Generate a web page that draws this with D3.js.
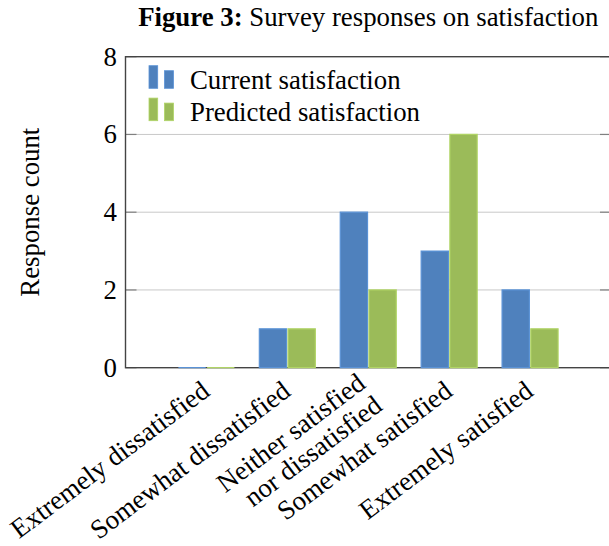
<!DOCTYPE html>
<html>
<head>
<meta charset="utf-8">
<script src="https://cdn.jsdelivr.net/npm/d3@7"></script>
<style>
  html, body { margin: 0; padding: 0; background: #fff; }
  svg { display: block; }
</style>
</head>
<body>
<svg id="chart" width="609" height="546"></svg>
<script>
// Survey response counts per satisfaction level
const categories = [
  ["Extremely dissatisfied"],
  ["Somewhat dissatisfied"],
  ["Neither satisfied", "nor dissatisfied"],
  ["Somewhat satisfied"],
  ["Extremely satisfied"]
];
const seriesNames = ["Current satisfaction", "Predicted satisfaction"];
const currentValues = [0, 1, 4, 3, 2];
const predictedValues = [0, 1, 2, 6, 1];
const yTicks = [0, 2, 4, 6, 8];
const titleBold = "Figure 3:";
const titleRest = " Survey responses on satisfaction";
const yLabel = "Response count";

const colors = ["#4f81bd", "#9bbb59"];
const FONT = "'Liberation Serif', 'Times New Roman', Times, serif";

const svg = d3.select("#chart")
  .attr("font-family", FONT);
const plot = { left: 125.5, right: 611, top: 56.7, bottom: 367.7 };
const fontSize = 26.8;
const xLabelSize = 27;

const catKeys = categories.map(c => c.join(" "));
const x = d3.scalePoint().domain(catKeys).range([plot.left, plot.right]).padding(1);
const xInner = d3.scaleBand().domain(seriesNames).range([-28, 28]).paddingInner(0.05);
const y = d3.scaleLinear().domain([0, 8]).range([plot.bottom, plot.top]);

// grid lines
svg.append("g")
  .selectAll("line")
  .data(yTicks.filter(t => t > 0 && t < 8))
  .join("line")
  .attr("x1", plot.left).attr("x2", plot.right)
  .attr("y1", d => y(d)).attr("y2", d => y(d))
  .attr("stroke", "#c8c8c8").attr("stroke-width", 1);

// y ticks (inside, both sides)
const tickG = svg.append("g");
yTicks.forEach(t => {
  tickG.append("line").attr("x1", plot.left).attr("x2", plot.left + 11)
    .attr("y1", y(t)).attr("y2", y(t)).attr("stroke", "#808080").attr("stroke-width", 1.2);
  tickG.append("line").attr("x1", plot.right - 11).attr("x2", plot.right)
    .attr("y1", y(t)).attr("y2", y(t)).attr("stroke", "#808080").attr("stroke-width", 1.2);
});

// frame
svg.append("rect")
  .attr("x", plot.left).attr("y", plot.top)
  .attr("width", plot.right - plot.left).attr("height", plot.bottom - plot.top)
  .attr("fill", "none").attr("stroke", "#444").attr("stroke-width", 1.4);

// bars (drawn over the axis line, so empty bars show as a coloured base)
const series = [currentValues, predictedValues];
series.forEach((vals, si) => {
  svg.append("g")
    .selectAll("path")
    .data(vals.map((v, i) => ({ v, k: catKeys[i] })))
    .join("path")
    .attr("d", d => {
      const x0 = x(d.k) + xInner(seriesNames[si]);
      const x1 = x0 + xInner.bandwidth();
      return `M${x0},${y(0)}V${y(d.v)}H${x1}V${y(0)}Z`;
    })
    .attr("fill", colors[si])
    .attr("stroke", d3.color(colors[si]).brighter(0.35))
    .attr("stroke-width", 1.2);
});

// y tick labels
svg.append("g")
  .selectAll("text")
  .data(yTicks)
  .join("text")
  .attr("x", 117)
  .attr("y", d => y(d))
  .attr("dy", "0.33em")
  .attr("text-anchor", "end")
  .attr("font-size", fontSize)
  .text(d => d);

// x tick labels, rotated; multi-line labels are right-aligned
const angle = -37;
const lineGap = 28;
const xl = svg.append("g");
categories.forEach((lines, i) => {
  const g = xl.append("g")
    .attr("transform", `translate(${x(catKeys[i])},${plot.bottom + 20.4}) rotate(${angle})`);
  const n = lines.length;
  lines.forEach((ln, j) => {
    g.append("text")
      .attr("x", 0)
      .attr("y", 8 + j * lineGap - (n - 1) * 10)
      .attr("text-anchor", "end")
      .attr("font-size", xLabelSize)
      .text(ln);
  });
});

// y axis label
svg.append("text")
  .attr("transform", `translate(38.5,${(plot.top + plot.bottom) / 2}) rotate(-90)`)
  .attr("text-anchor", "middle")
  .attr("font-size", fontSize)
  .text(yLabel);

// title
const title = svg.append("text")
  .attr("x", (plot.left + plot.right) / 2)
  .attr("y", 26)
  .attr("text-anchor", "middle")
  .attr("font-size", fontSize);
title.append("tspan").attr("font-weight", "bold").text(titleBold);
title.append("tspan").text(titleRest);

// legend
const legend = svg.append("g");
seriesNames.forEach((name, i) => {
  const base = 88.3 + i * 32.4;
  const edge = d3.color(colors[i]).brighter(0.35);
  const lg = legend.append("g");
  lg.append("rect").attr("x", 149).attr("y", base - 22.6).attr("width", 8.7).attr("height", 22.6)
    .attr("fill", colors[i]).attr("stroke", edge).attr("stroke-width", 0.8);
  lg.append("rect").attr("x", 164.5).attr("y", base - 17.6).attr("width", 9).attr("height", 17.6)
    .attr("fill", colors[i]).attr("stroke", edge).attr("stroke-width", 0.8);
  lg.append("text").attr("x", 190).attr("y", base + 0.5)
    .attr("font-size", fontSize).text(name);
});
</script>
</body>
</html>
